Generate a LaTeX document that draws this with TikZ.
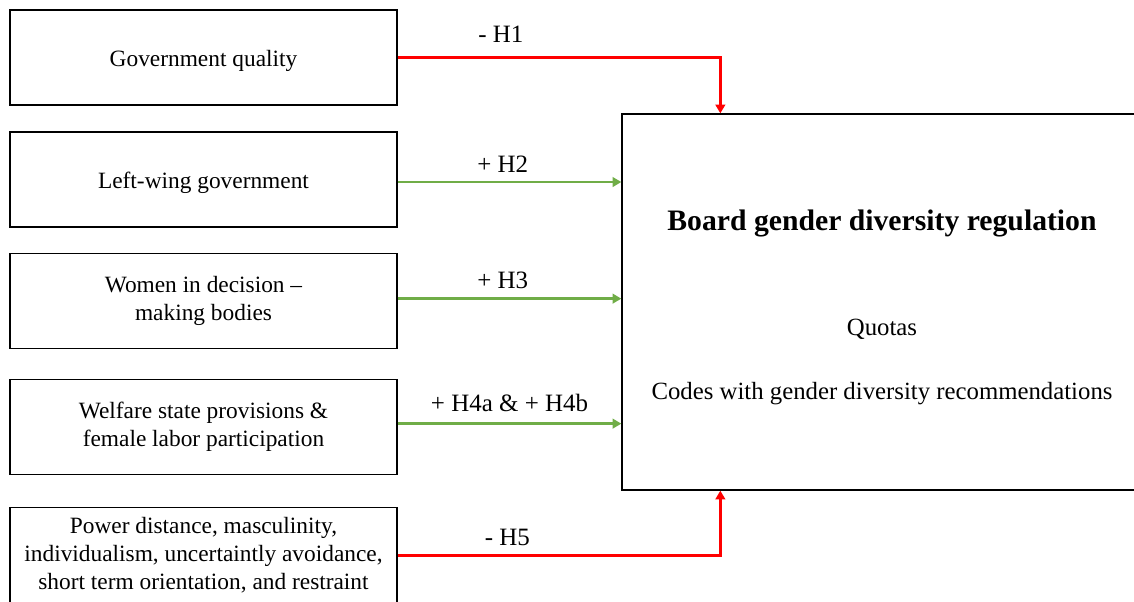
\documentclass[tikz,border=0pt]{standalone}
\usepackage{fontspec}
\setmainfont{Liberation Serif}
\usetikzlibrary{positioning,arrows.meta,calc}
\definecolor{negred}{RGB}{255,0,0}
\definecolor{posgreen}{RGB}{112,173,71}

\begin{document}
\begin{tikzpicture}[x=0.02cm, y=-0.02cm,
        factor/.style={draw, line width=0.8pt, inner sep=0pt, align=center,
            minimum width=7.74cm, minimum height=1.9cm,
            font=\fontsize{13.3}{16}\selectfont,
            execute at begin node=\rule{0pt}{12.8pt}},
        negpath/.style={draw=negred, line width=1.6pt, -{Triangle[length=5pt, width=5.5pt]}},
        pospath/.style={draw=posgreen, line width=1.3pt, -{Triangle[length=5pt, width=5.5pt]}},
        hyp/.style={above=5pt, inner sep=0pt, text depth=0pt, text=black,
            font=\fontsize{14.2}{17}\selectfont}]
        \useasboundingbox (0,0) rectangle (1134,602);
        %% explanatory factors, stacked on the left
        \node[factor] (gov) at (203.5,57.5) {Government quality};
        \node[factor, below=0.51cm of gov] (left) {Left-wing government};
        \node[factor, below=0.51cm of left] (women) {Women in decision --\\making bodies};
        \node[factor, below=0.59cm of women] (welfare) {Welfare state provisions \&\\female labor participation};
        \node[factor, below=0.63cm of welfare, minimum height=1.92cm] (culture)
            {Power distance, masculinity,\\individualism, uncertaintly avoidance,\\short term orientation, and restraint};
        %% outcome
        \node[draw, line width=0.8pt, minimum width=10.4cm, minimum height=7.52cm, align=center,
            font=\fontsize{14.1}{16}\selectfont] (board) at (882,302)
            {\rule{0pt}{17.5pt}{\fontsize{16.9}{20}\selectfont\bfseries Board gender diversity regulation}\\[44pt]
             Quotas\\[20.3pt]
             Codes with gender diversity recommendations};
        \coordinate (btop) at ($(board.north west)+(99,0)$);
        \coordinate (bbot) at ($(board.south west)+(99,0)$);
        %% hypotheses
        \draw[negpath] (gov.east) -| node[hyp, pos=0.16, above=8pt] {- H1} (btop);
        \draw[pospath] ([yshift=-1.5pt]left.east) -- node[hyp, pos=0.47] {+ H2} ([yshift=-1.5pt]left.east -| board.west);
        \draw[pospath] ([yshift=1.5pt]women.east) -- node[hyp, pos=0.47] {+ H3} ([yshift=1.5pt]women.east -| board.west);
        \draw[pospath] ([yshift=2pt]welfare.east) -- node[hyp, pos=0.5, above=6pt] {+ H4a \& + H4b} ([yshift=2pt]welfare.east -| board.west);
        \draw[negpath] (culture.east) -| node[hyp, pos=0.17] {- H5} (bbot);
\end{tikzpicture}
\end{document}
